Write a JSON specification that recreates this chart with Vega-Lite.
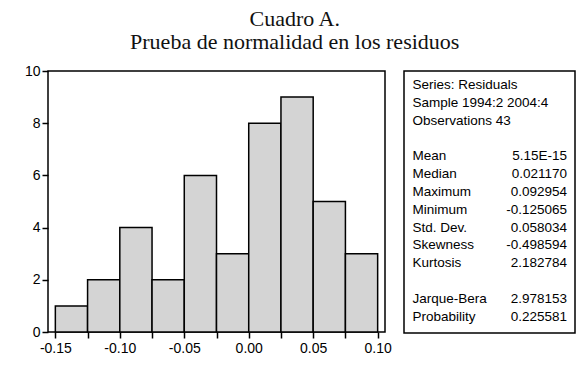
{
  "$schema": "https://vega.github.io/schema/vega-lite/v6.json",
  "background": "white",
  "padding": {"left": 23, "top": 8, "right": 5, "bottom": 5},
  "title": {
    "text": ["Cuadro A.", "Prueba de normalidad en los residuos"],
    "font": "Liberation Serif",
    "fontSize": 22,
    "fontWeight": "normal",
    "color": "#111111",
    "anchor": "middle",
    "lineHeight": 23,
    "offset": 9,
    "dx": -5
  },
  "spacing": 10,
  "hconcat": [
    {
      "width": 337,
      "height": 261,
      "data": {"values": [
        {"start": -0.15, "end": -0.125, "count": 1},
        {"start": -0.125, "end": -0.1, "count": 2},
        {"start": -0.1, "end": -0.075, "count": 4},
        {"start": -0.075, "end": -0.05, "count": 2},
        {"start": -0.05, "end": -0.025, "count": 6},
        {"start": -0.025, "end": 0, "count": 3},
        {"start": 0, "end": 0.025, "count": 8},
        {"start": 0.025, "end": 0.05, "count": 9},
        {"start": 0.05, "end": 0.075, "count": 5},
        {"start": 0.075, "end": 0.1, "count": 3}
      ]},
      "mark": {"type": "rect", "fill": "#d4d4d4", "stroke": "black", "strokeWidth": 1.5},
      "encoding": {
        "x": {
          "field": "start", "type": "quantitative",
          "scale": {"domain": [-0.1557, 0.1057], "nice": false, "zero": false},
          "axis": {
            "title": null,
            "values": [-0.15, -0.125, -0.1, -0.075, -0.05, -0.025, 0, 0.025, 0.05, 0.075, 0.1],
            "labelExpr": "round(datum.value*1000) % 50 == 0 ? replace(format(datum.value, '.2f'), '\u2212', '-') : ''",
            "domain": false, "grid": false,
            "tickColor": "black", "tickWidth": 1.5, "tickSize": 6,
            "labelFont": "Liberation Sans", "labelFontSize": 14, "labelColor": "black",
            "labelPadding": 3, "labelFlush": false, "labelOverlap": false
          }
        },
        "x2": {"field": "end"},
        "y": {
          "field": "count", "type": "quantitative",
          "scale": {"domain": [0, 10], "nice": false, "zero": true},
          "axis": {
            "title": null,
            "values": [0, 2, 4, 6, 8, 10],
            "domain": false, "grid": false,
            "tickColor": "black", "tickWidth": 1.5, "tickSize": 6,
            "labelFont": "Liberation Sans", "labelFontSize": 14, "labelColor": "black",
            "labelPadding": 2, "labelFlush": false, "labelOverlap": false
          }
        }
      }
    },
    {
      "width": 171,
      "height": 262,
      "data": {"values": [
        {"line": 0, "label": "Series: Residuals", "value": ""},
        {"line": 1, "label": "Sample 1994:2 2004:4", "value": ""},
        {"line": 2, "label": "Observations 43", "value": ""},
        {"line": 4, "label": "Mean", "value": "5.15E-15"},
        {"line": 5, "label": "Median", "value": "0.021170"},
        {"line": 6, "label": "Maximum", "value": "0.092954"},
        {"line": 7, "label": "Minimum", "value": "-0.125065"},
        {"line": 8, "label": "Std. Dev.", "value": "0.058034"},
        {"line": 9, "label": "Skewness", "value": "-0.498594"},
        {"line": 10, "label": "Kurtosis", "value": "2.182784"},
        {"line": 12, "label": "Jarque-Bera", "value": "2.978153"},
        {"line": 13, "label": "Probability", "value": "0.225581"}
      ]},
      "layer": [
        {
          "mark": {"type": "text", "align": "left", "baseline": "middle", "font": "Liberation Sans", "fontSize": 13.5, "color": "black"},
          "encoding": {
            "x": {"datum": 0, "type": "quantitative", "scale": {"domain": [-0.055, 1.0518], "nice": false, "zero": false}, "axis": null},
            "y": {"field": "line", "type": "quantitative", "scale": {"domain": [-0.786, 13.917], "reverse": true, "nice": false, "zero": false}, "axis": null},
            "text": {"field": "label"}
          }
        },
        {
          "mark": {"type": "text", "align": "right", "baseline": "middle", "font": "Liberation Sans", "fontSize": 13.5, "color": "black"},
          "encoding": {
            "x": {"datum": 1, "type": "quantitative", "axis": null},
            "y": {"field": "line", "type": "quantitative", "axis": null},
            "text": {"field": "value"}
          }
        }
      ]
    }
  ],
  "config": {
    "view": {"stroke": "black", "strokeWidth": 1.5},
    "font": "Liberation Sans"
  }
}
